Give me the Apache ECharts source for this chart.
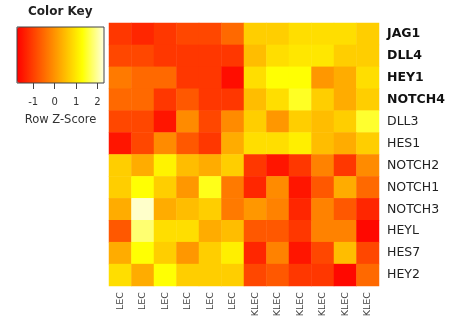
<!DOCTYPE html>
<html><head><meta charset="utf-8">
<script src="https://cdn.jsdelivr.net/npm/echarts@6/dist/echarts.min.js"></script>
<style>html,body{margin:0;padding:0;background:#fff}#c{width:456px;height:321px}</style>
</head><body><div id="c"></div>
<script>
const samples = ['LEC','LEC','LEC','LEC','LEC','LEC','KLEC','KLEC','KLEC','KLEC','KLEC','KLEC'];
const genes = ['JAG1','DLL4','HEY1','NOTCH4','DLL3','HES1','NOTCH2','NOTCH1','NOTCH3','HEYL','HES7','HEY2'];
const boldGenes = ['JAG1','DLL4','HEY1','NOTCH4'];
const keyTicks = [-1, 0, 1, 2];
const zJAG1   = [-1.1,-1.3,-1.1,-0.9,-0.9,-0.5, 0.7, 0.7, 0.9, 0.9, 0.9, 0.7];
const zDLL4   = [-0.9,-0.9,-1.1,-1.1,-1.1,-1.1, 0.5, 0.9, 1.0, 1.0, 0.7, 0.7];
const zHEY1   = [-0.3,-0.5,-0.5,-1.1,-1.1,-1.6, 0.9, 1.3, 1.3, 0.05,0.3, 0.9];
const zNOTCH4 = [-0.5,-0.5,-1.1,-0.7,-1.1,-1.1, 0.5, 0.9, 1.45,0.7, 0.3, 0.7];
const zDLL3   = [-0.9,-0.9,-1.5,-0.1,-0.9,-0.1, 0.7, 0.05,0.7, 0.5, 0.7, 1.5];
const zHES1   = [-1.5,-0.9,-0.1,-0.7,-1.1, 0.3, 0.9, 0.9, 1.1, 0.5, 0.3, 0.7];
const zNOTCH2 = [ 0.7, 0.3, 1.15,0.5, 0.3, 0.7,-1.1,-1.5,-1.1,-0.2,-1.1,-0.1];
const zNOTCH1 = [ 0.7, 1.3, 0.7, 0.05,1.4,-0.3,-1.3,-0.1,-1.5,-0.7, 0.3,-0.5];
const zNOTCH3 = [ 0.3, 2.2, 0.3, 0.5, 0.7,-0.3, 0.05,-0.2,-1.3,-0.2,-0.7,-1.3];
const zHEYL   = [-0.7, 1.8, 0.9, 0.9, 0.3, 0.5,-0.7,-0.7,-1.1,-0.2,-0.2,-1.65];
const zHES7   = [ 0.3, 1.3, 0.7, 0.05,0.7, 1.1,-1.3,-0.2,-1.5,-0.9, 0.5,-0.9];
const zHEY2   = [ 0.9, 0.3, 1.3, 0.7, 0.7, 0.7,-0.9,-0.7,-1.1,-1.1,-1.65,-0.5];
const rows = [zJAG1,zDLL4,zHEY1,zNOTCH4,zDLL3,zHES1,zNOTCH2,zNOTCH1,zNOTCH3,zHEYL,zHES7,zHEY2];

const data = [];
rows.forEach((r, yi) => r.forEach((v, xi) => data.push([xi, yi, v])));

const FONT = 'DejaVu Sans';
const chart = echarts.init(document.getElementById('c'), null, {renderer: 'canvas'});
chart.setOption({
  animation: false,
  backgroundColor: '#fff',
  title: {
    text: 'Color Key', left: 28, top: 6, padding: 0,
    textStyle: {fontFamily: FONT, fontSize: 12, fontWeight: 'bold', color: '#222'}
  },
  grid: [
    {left: 109, top: 23, width: 270, height: 263},
    {left: 17, top: 27, width: 87, height: 56, show: true, borderColor: '#444', borderWidth: 1, backgroundColor: 'transparent', z: 10}
  ],
  xAxis: [
    {type: 'category', gridIndex: 0, data: samples, position: 'bottom',
     axisLine: {show: false}, axisTick: {show: false}, splitLine: {show: false},
     axisLabel: {rotate: 90, margin: 6, fontFamily: FONT, fontSize: 9.5, color: '#444', interval: 0}},
    {type: 'value', gridIndex: 1, min: -1.75, max: 2.3,
     axisLine: {show: false}, splitLine: {show: false},
     axisTick: {show: true, customValues: keyTicks, length: 6, lineStyle: {color: '#444'}},
     axisLabel: {customValues: keyTicks, margin: 14, fontFamily: FONT, fontSize: 10, color: '#333'},
     name: 'Row Z-Score', nameLocation: 'middle', nameGap: 31,
     nameTextStyle: {fontFamily: FONT, fontSize: 11.5, color: '#333'}}
  ],
  yAxis: [
    {type: 'category', gridIndex: 0, data: genes, inverse: true, position: 'right',
     axisLine: {show: false}, axisTick: {show: false}, splitLine: {show: false},
     axisLabel: {margin: 8, interval: 0, fontFamily: FONT, fontSize: 12.5, color: '#222',
       formatter: (v) => boldGenes.includes(v) ? '{b|' + v + '}' : v,
       rich: {b: {fontFamily: FONT, fontSize: 12.5, fontWeight: 'bold', color: '#111'}}}},
    {type: 'value', gridIndex: 1, show: false, min: 0, max: 1}
  ],
  visualMap: {
    type: 'continuous', min: -1.75, max: 2.3, seriesIndex: 0,
    orient: 'horizontal', left: 17, top: 27, itemWidth: 56, itemHeight: 87,
    padding: 0, calculable: false, hoverLink: false, text: null, showLabel: false,
    inRange: {color: ['#ff0000', '#ff5500', '#ffaa00', '#ffff00', '#ffffe0']}
  },
  series: [{
    type: 'heatmap', xAxisIndex: 0, yAxisIndex: 0, data: data,
    itemStyle: {borderWidth: 0}, emphasis: {disabled: true}
  }]
});
</script></body></html>
